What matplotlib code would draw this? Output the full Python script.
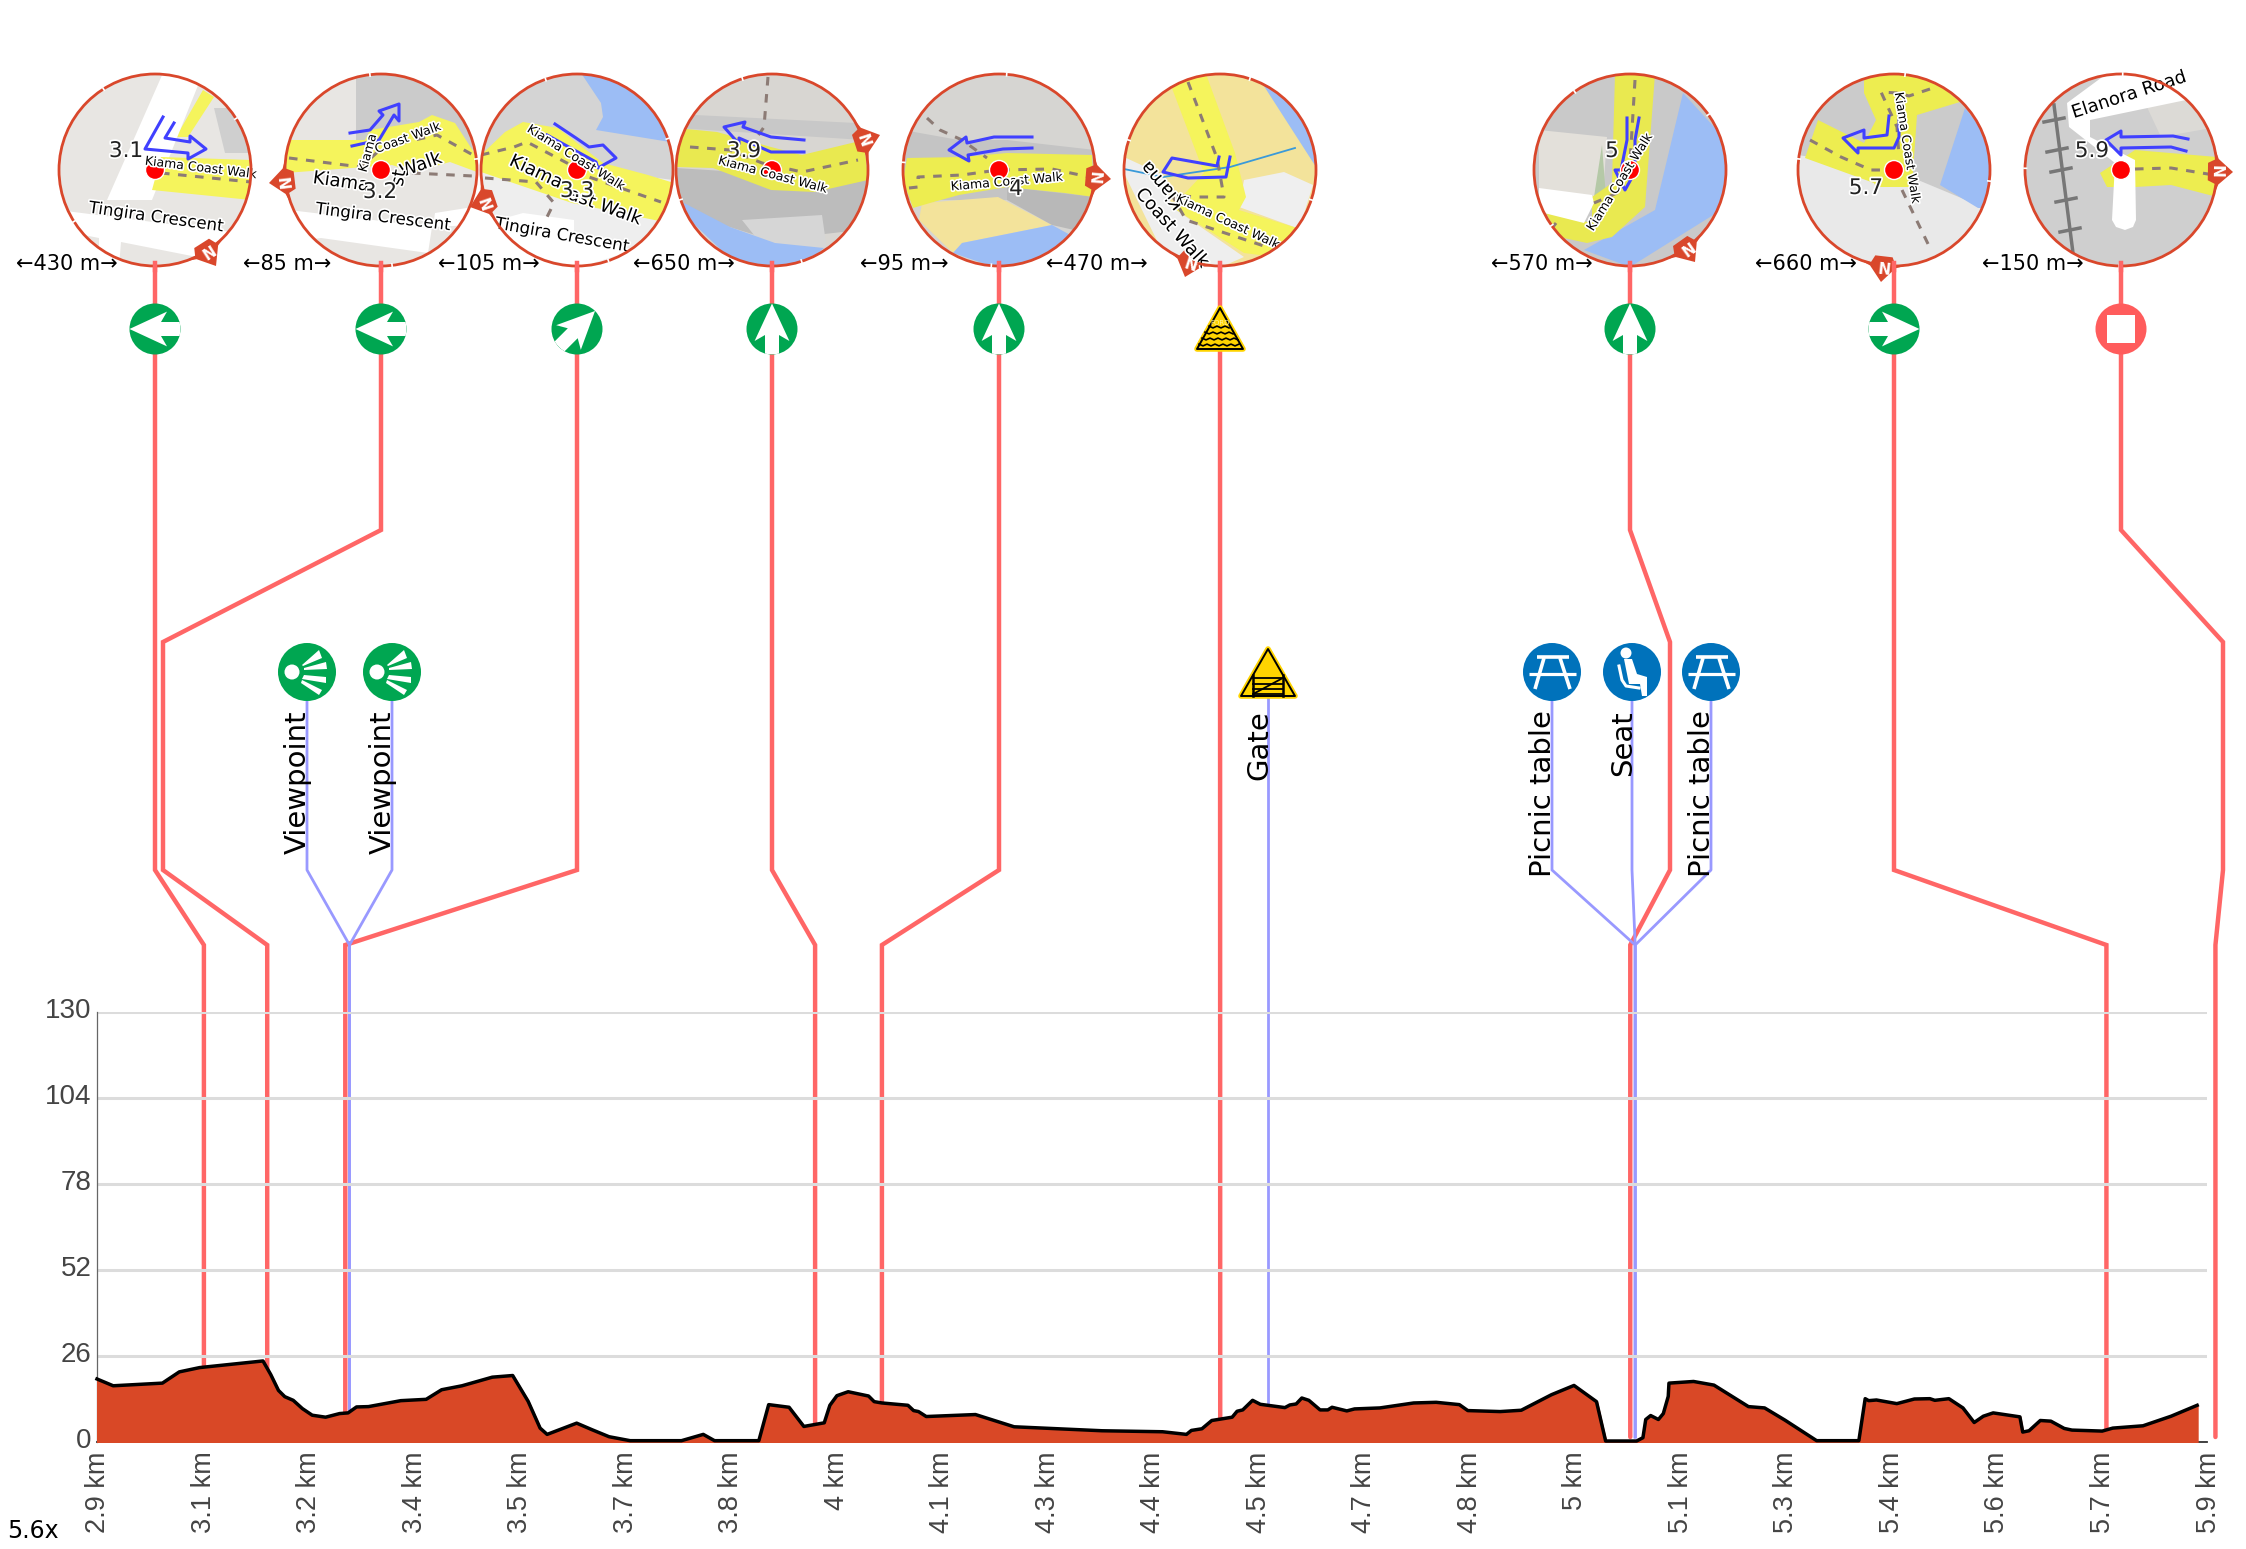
import matplotlib
matplotlib.use('Agg')
import matplotlib.pyplot as plt
import matplotlib.patheffects as pe
from matplotlib.patches import Circle, Polygon, Rectangle
from matplotlib.transforms import ScaledTranslation
import numpy as np

# elevation profile
profile_km = [2.900, 2.923, 2.993, 3.017, 3.046, 3.136, 3.147, 3.158, 3.167, 3.179, 3.192, 3.206, 3.225,
              3.245, 3.257, 3.269, 3.286, 3.332, 3.368, 3.390, 3.419, 3.462, 3.491, 3.513, 3.530, 3.540,
              3.582, 3.604, 3.628, 3.658, 3.731, 3.762, 3.778, 3.841, 3.855, 3.884, 3.905, 3.934, 3.942,
              3.952, 3.968, 3.997, 4.005, 4.016, 4.053, 4.061, 4.068, 4.079, 4.149, 4.204, 4.329, 4.415,
              4.449, 4.456, 4.471, 4.485, 4.514, 4.521, 4.529, 4.543, 4.554, 4.589, 4.596, 4.605, 4.613,
              4.623, 4.639, 4.650, 4.656, 4.677, 4.688, 4.724, 4.772, 4.804, 4.837, 4.849, 4.895, 4.925,
              4.968, 5.000, 5.032, 5.045, 5.089, 5.098, 5.102, 5.109, 5.120, 5.127, 5.134, 5.135, 5.170,
              5.199, 5.248, 5.271, 5.300, 5.345, 5.405, 5.414, 5.419, 5.430, 5.459, 5.484, 5.506, 5.513,
              5.533, 5.553, 5.569, 5.582, 5.596, 5.634, 5.638, 5.647, 5.663, 5.678, 5.697, 5.708, 5.751,
              5.766, 5.809, 5.849, 5.886]
profile_elev = [19.05, 17.0, 17.8, 21.2, 22.5, 24.5, 20.4, 15.6, 13.7, 12.6, 10.1, 8.1, 7.5,
                8.6, 8.8, 10.6, 10.7, 12.5, 12.9, 15.8, 17.0, 19.6, 20.1, 12.3, 4.2, 2.3,
                5.7, 3.7, 1.6, 0.4, 0.4, 2.3, 0.4, 0.4, 11.3, 10.5, 4.7, 5.8, 11.1,
                14.0, 15.2, 13.9, 12.2, 11.8, 11.1, 9.5, 9.2, 7.7, 8.3, 4.6, 3.4, 3.1,
                2.3, 3.5, 4.0, 6.5, 7.5, 9.3, 9.7, 12.6, 11.4, 10.4, 11.2, 11.5, 13.3,
                12.6, 9.7, 9.7, 10.5, 9.4, 10.0, 10.3, 11.8, 12.0, 11.3, 9.5, 9.2, 9.6,
                14.3, 17.1, 12.2, 0.3, 0.3, 1.3, 6.8, 8.0, 6.8, 8.6, 13.8, 17.8, 18.3,
                17.2, 10.7, 10.3, 6.6, 0.4, 0.4, 13.1, 12.5, 12.7, 11.6, 13.0, 13.1, 12.6,
                13.1, 10.3, 5.9, 7.8, 8.8, 7.6, 3.0, 3.4, 6.5, 6.3, 4.1, 3.6, 3.3,
                4.2, 4.9, 7.8, 11.1]

y_ticks = [0, 26, 52, 78, 104, 130]
x_tick_km = [2.9, 3.05, 3.2, 3.35, 3.5, 3.65, 3.8, 3.95, 4.1, 4.25, 4.4, 4.55, 4.7, 4.85, 5.0, 5.15,
             5.3, 5.45, 5.6, 5.75, 5.9]
x_tick_labels = ['2.9 km', '3.1 km', '3.2 km', '3.4 km', '3.5 km', '3.7 km', '3.8 km', '4 km', '4.1 km',
                 '4.3 km', '4.4 km', '4.5 km', '4.7 km', '4.8 km', '5 km', '5.1 km', '5.3 km', '5.4 km',
                 '5.6 km', '5.7 km', '5.9 km']

# turn markers: where they sit on the profile, and their map/icon
turn_km = [3.052, 3.142, 3.253, 3.921, 4.016, 4.497, 5.080, 5.757, 5.912]
turn_map_x = [155, 381, 577, 772, 999, 1220, 1630, 1894, 2121]
turn_kinds = ['left', 'left', 'ne', 'up', 'up', 'ford', 'up', 'right', 'stop']
turn_numbers = ['3.1', '3.2', '3.3', '3.9', '4', '', '5', '5.7', '5.9']
gap_labels = ['←430 m→', '←85 m→', '←105 m→', '←650 m→', '←95 m→', '←470 m→', '←570 m→', '←660 m→', '←150 m→']
gap_label_x = [67, 287, 489, 684, 904, 1097, 1542, 1806, 2033]

# points of interest
poi_km = [3.259, 3.259, 4.565, 5.087, 5.087, 5.087]
poi_icon_x = [307, 392, 1268, 1552, 1632, 1711]
poi_names = ['Viewpoint', 'Viewpoint', 'Gate', 'Picnic table', 'Seat', 'Picnic table']
poi_kinds = ['view', 'view', 'gate', 'picnic', 'seat', 'picnic']

RED = '#ff6666'
LILAC = '#9999ff'
GREEN = '#00a651'
BLUE = '#0072bb'
EDGE = '#d9472b'
YEL = '#f5f45c'
WATER = '#9cbdf5'
SAND = '#f3e39b'
PATH = '#8c7b75'
ARROW = '#4040ff'

# map sketches, offsets in pixels from the circle centre
# polys: colour, points / dash: dashed tracks / arrow: route / texts: text, x, y, rotation, size
maps = [
    dict(bg='#e8e6e3', compass=(61, 96),
         polys=[('#cfcfcf', [(59, -62), (96, -62), (96, -17), (70, -17)]),
                (YEL, [(48, -80), (59, -73), (33, -33), (21, -33)]),
                ('#ffffff', [(8, -97), (48, -97), (-3, 30), (-48, 30)]),
                (YEL, [(6, -13), (96, -10), (96, 30), (-3, 20)]),
                ('#ffffff', [(-97, 40), (77, 62), (42, 87), (-34, 72), (-36, 97), (-56, 97), (-56, 68), (-97, 60)])],
         dash=[[(6, 3), (96, 12)]],
         arrow=[(8, -53), (-10, -21), (33, -17), (33, -11), (51, -21), (35, -34), (35, -28), (10, -32), (19, -47)],
         texts=[('Kiama Coast Walk', 46, -2, -7, 9), ('Tingira Crescent', 1, 47, -8, 12)],
         num=(-29, -19)),
    dict(bg='#e8e6e3', compass=(-112, 13),
         polys=[('#cbcbcb', [(-25, -97), (96, -97), (96, -20), (-25, -30)]),
                (YEL, [(-96, -30), (-16, -30), (-11, -40), (38, -48), (51, -55), (74, -47), (96, -13), (96, 2),
                       (69, -8), (33, 2), (11, -5), (-96, 3)]),
                ('#ffffff', [(-92, 40), (51, 57), (47, 83), (-60, 68), (-74, 70)]),
                ('#ffffff', [(54, 43), (92, 37), (92, 55), (52, 57)])],
         dash=[[(-92, -12), (-20, -3), (2, -23), (56, -35), (92, -15)], [(31, 3), (92, 6)]],
         arrow=[(-31, -37), (-11, -40), (2, -55), (-2, -59), (18, -66), (18, -49), (13, -55), (-2, -30), (-29, -24)],
         texts=[('Kiama', -40, 12, -8, 13), ('Walk', 40, -5, 20, 13), ('Coast Walk', 27, -32, 20, 9),
                ('Kiama', -13, -17, 75, 9), ('Tingira Crescent', 2, 47, -7, 12), ('st', 18, 8, 80, 13)],
         num=(-1, 22)),
    dict(bg='#eeeeee', compass=(-107, 37),
         polys=[('#d4d4d4', [(-96, -97), (96, -97), (96, 10), (-96, -15)]),
                (WATER, [(4, -97), (24, -67), (26, -53), (19, -40), (93, -28), (97, -97)]),
                (YEL, [(-96, -15), (-72, -38), (-54, -48), (-19, -42), (26, -7), (71, 5), (97, 13), (92, 53),
                       (-5, 33), (-96, 2)]),
                ('#ffffff', [(-86, 52), (-54, 43), (-3, 50), (-3, 63), (57, 80), (4, 97), (-63, 83)])],
         dash=[[(-96, -15), (-63, -23), (-50, -28), (-10, -7), (12, 7), (84, 32)],
               [(-92, 8), (-41, 12), (-23, 33), (-30, 47)]],
         arrow=[(-22, -46), (-1, -32), (12, -23), (26, -25), (39, -12), (21, -2), (19, -8), (-30, -35)],
         texts=[('Kiama Coast Walk', -1, -12, -32, 9), ('Kiama', -41, 2, -25, 13), ('ast Walk', 28, 37, -20, 13),
                ('Tingira Crescent', -15, 65, -10, 12)],
         num=(0, 21)),
    dict(bg='#d8d6d2', compass=(108, -35),
         polys=[('#c8c8c8', [(-77, -55), (84, -47), (92, -30), (-96, -42)]),
                ('#bcbcbc', [(-96, -2), (96, 10), (88, 60), (-1, 70), (-96, 40)]),
                ('#d6d6d6', [(-30, 50), (50, 45), (55, 80), (-10, 75)]),
                (WATER, [(-88, 33), (-42, 57), (3, 73), (52, 78), (30, 97), (-33, 97), (-96, 37)]),
                ('#e9e950', [(-96, -42), (-55, -38), (-1, -23), (30, -15), (92, -30), (96, 10), (43, 22), (-1, 20),
                             (-59, -2), (-96, -3)])],
         dash=[[(-4, -93), (-8, -43), (-19, -27)], [(-82, -23), (-42, -20), (-10, -7), (30, 2), (86, -10)]],
         arrow=[(32, -30), (-1, -33), (-29, -43), (-27, -48), (-48, -43), (-33, -26), (-33, -32), (-1, -18), (32, -18)],
         texts=[('Kiama Coast Walk', 1, 5, -15, 9)],
         num=(-28, -19)),
    dict(bg='#d6d5d2', compass=(112, 9),
         polys=[('#c4c4c4', [(-96, -40), (-40, -30), (8, -30), (96, -20), (96, 30), (-96, 30)]),
                (SAND, [(-77, 33), (-1, 27), (53, 55), (-37, 73), (-46, 83), (-80, 50)]),
                ('#b8b8b8', [(8, 17), (95, 27), (75, 60), (53, 55), (8, 30)]),
                (WATER, [(-37, 73), (53, 55), (75, 67), (44, 90), (-5, 97), (-46, 83)]),
                ('#eded50', [(-92, -12), (-36, -13), (8, -17), (93, -15), (95, 27), (66, 23), (8, 17), (-40, 25),
                             (-69, 33), (-86, 38), (-96, 10)])],
         dash=[[(-72, -52), (-59, -40), (-37, -30), (-12, -12)],
               [(-90, 18), (-81, 17), (-81, 7), (-37, 5), (-1, 0), (53, -1), (95, 8)]],
         arrow=[(33, -33), (-5, -33), (-32, -27), (-33, -33), (-50, -20), (-30, -9), (-31, -15), (4, -21), (33, -22)],
         texts=[('Kiama Coast Walk', 8, 12, 5, 9)],
         num=(17, 19)),
    dict(bg=SAND, compass=(-35, 107), dot=False,
         polys=[('#eeeeee', [(-96, -13), (-57, 5), (-48, 37), (24, 87), (1, 97), (-57, 83), (-96, 3)]),
                ('#efefef', [(24, 10), (64, 2), (93, 15), (82, 50), (77, 58), (19, 37)]),
                (WATER, [(42, -87), (53, -92), (96, -30), (96, -3)]),
                (YEL, [(-50, -87), (-14, -96), (15, -17), (26, 27), (19, 40), (77, 58), (55, 87), (24, 83), (-48, 37),
                       (-16, 3)])],
         dash=[[(-32, -88), (-3, -12), (4, 27), (-25, 27), (-48, 25), (-34, 50), (50, 78)]],
         stream=[(-96, -1), (-57, 7), (10, -3), (75, -22)],
         arrow=[(-1, -13), (-3, -4), (-48, -12), (-57, 2), (-32, 8), (6, 7), (10, -13)],
         texts=[('Kiama', -57, 15, 130, 13), ('Coast Walk', -48, 58, -48, 13), ('Kiama Coast Walk', 8, 52, -25, 9)],
         num=None),
    dict(bg='#c9c9c9', compass=(65, 92),
         polys=[('#e3e0da', [(-91, -40), (-23, -33), (-28, 40), (-91, 25)]),
                ('#b5c9a7', [(-28, -25), (-23, 40), (-38, 40)]),
                (WATER, [(53, -77), (96, -30), (96, 37), (0, 97), (-46, 80), (25, 40)]),
                ('#e9e950', [(-15, -96), (25, -96), (15, 37), (-18, 67), (-43, 73), (-71, 67), (-84, 43), (-38, 53),
                             (-38, 27), (-18, 13)]),
                ('#ffffff', [(-91, 18), (-38, 25), (-36, 33), (-46, 53), (-86, 43), (-91, 40)])],
         dash=[[(5, -90), (0, -7)], [(-13, 23), (-36, 33)], [(-74, 53), (-81, 62)]],
         arrow=[(-3, -52), (-3, -30), (-9, 0), (-15, 0), (-5, 20), (5, 2), (5, -30), (9, -52)],
         texts=[('Kiama Coast Walk', -10, 12, 58, 9)],
         num=(-18, -19)),
    dict(bg='#e9e9e9', compass=(-13, 112),
         polys=[('#cbcbcb', [(-96, -97), (96, -97), (96, 40), (0, 0), (-96, -15)]),
                (WATER, [(71, -62), (96, -30), (96, 38), (84, 38), (46, 15)]),
                ('#eded50', [(-30, -96), (33, -96), (66, -68), (23, -55), (18, 17), (-18, 17), (-20, 13), (-89, -12),
                             (-76, -50), (-30, -27), (-18, -50), (-30, -77)])],
         dash=[[(36, -81), (15, -74), (3, -77), (-13, -78), (3, -43), (5, -13)],
               [(-84, -30), (-53, -13), (-23, 0), (-10, 0)], [(8, 20), (36, 78)]],
         arrow=[(-5, -54), (-7, -35), (-30, -32), (-30, -40), (-51, -32), (-36, -17), (-36, -22), (0, -22), (5, -33),
                (5, -53)],
         texts=[('Kiama Coast Walk', 13, -22, -81, 9)],
         num=(-28, 18)),
    dict(bg='#cfcfcf', compass=(112, 2),
         polys=[('#dcdad6', [(25, -65), (80, -85), (96, -43), (40, -33)]),
                ('#eded50', [(14, -20), (96, -13), (96, 27), (50, 15), (14, 17), (-14, 17), (-21, 3)]),
                ('#ffffff', [(-54, -67), (-52, -43), (-6, -7), (-9, 50), (-5, 57), (4, 60), (12, 57), (15, 50), (14, -10),
                             (-31, -33), (-31, -50), (65, -70), (40, -97), (-16, -95)])],
         dash=[[(14, -1), (50, -2), (93, 5)]],
         rail=[(-67, -65), (-48, 83)],
         arrow=[(67, -31), (52, -34), (0, -33), (0, -39), (-15, -30), (0, -15), (0, -22), (50, -23), (65, -19)],
         texts=[('Elanora Road', 8, -75, 18, 13)],
         num=(-29, -19)),
]

CY = 170
R = 96
LINE_TOP = 263
ICON_Y = 329
POI_Y = 672
halo = [pe.withStroke(linewidth=2.5, foreground='white')]

fig = plt.figure(figsize=(22.46, 15.49), dpi=100)
ax = fig.add_axes([0, 0, 1, 1], zorder=1)
ax.set_xlim(0, 2246)
ax.set_ylim(1549, 0)
ax.set_xticks([])
ax.set_yticks([])
ax.axis('off')

elev = fig.add_axes([97 / 2246, (1549 - 1442) / 1549, 2110 / 2246, 430 / 1549], zorder=2)
elev.patch.set_visible(False)
elev.set_xlim(2.9, 5.9)
elev.set_ylim(0, 130)
elev.set_yticks(y_ticks)
elev.set_xticks(x_tick_km)
elev.set_xticklabels(x_tick_labels, rotation=90, va='top', ha='center', family='Liberation Sans',
                     fontsize=19.5, color='#444444')
elev.set_yticklabels([str(v) for v in y_ticks], family='Liberation Sans', fontsize=20, color='#444444')
elev.tick_params(length=0)
elev.tick_params(axis='x', pad=7)
elev.tick_params(axis='y', pad=4)
# the value labels sit a little above their grid lines
for lab in elev.get_yticklabels():
    lab.set_transform(lab.get_transform() + ScaledTranslation(0, 4 / 100, fig.dpi_scale_trans))
for lab in elev.get_xticklabels():
    lab.set_transform(lab.get_transform() + ScaledTranslation(1.5 / 100, 0, fig.dpi_scale_trans))
elev.grid(axis='y', color='#dcdcdc', linewidth=2.2)
elev.set_axisbelow(True)
for s in ['top', 'right']:
    elev.spines[s].set_visible(False)
elev.spines['left'].set_color('#666666')
elev.spines['left'].set_linewidth(0.9)
elev.spines['bottom'].set_color('#333333')
elev.spines['bottom'].set_linewidth(1.3)
elev.fill_between(profile_km, profile_elev, 0, color='#d94826', linewidth=1.5, zorder=3)
elev.plot(profile_km, profile_elev, color='black', linewidth=2.5, solid_joinstyle='round', zorder=4, clip_on=False)


def km_px(km):
    # go through the profile's own scale
    disp = elev.transData.transform((km, 0))
    return disp[0] * 2246 / fig.bbox.width


# connector routes, figure pixels
turn_mid = [[(155, 870)],
            [(381, 530), (163, 642), (163, 870)],
            [(577, 870)],
            [(772, 870)],
            [(999, 870)],
            [(1220, 870)],
            [(1630, 530), (1670, 642), (1670, 870)],
            [(1894, 870)],
            [(2121, 530), (2223, 642), (2223, 870)]]
for x0, km, mid in zip(turn_map_x, turn_km, turn_mid):
    bx = km_px(km)
    xs = [x0] + [p[0] for p in mid] + [bx, bx]
    ys = [LINE_TOP] + [p[1] for p in mid] + [945, 1437]
    if km == 4.497:
        xs, ys = [x0, bx], [LINE_TOP, 1437]
    ax.plot(xs, ys, color=RED, linewidth=3.2, solid_joinstyle='miter', solid_capstyle='round', zorder=2)

for x0, km in zip(poi_icon_x, poi_km):
    bx = km_px(km)
    if x0 == 1268:
        ax.plot([x0, x0], [POI_Y, 1437], color=LILAC, linewidth=2, zorder=3)
    else:
        ax.plot([x0, x0, bx, bx], [POI_Y, 870, 945, 1437], color=LILAC, linewidth=2, zorder=3)


def draw_map(cx, spec, number):
    clip = Circle((cx, CY), R, transform=ax.transData, facecolor=spec['bg'], edgecolor='none', zorder=5)
    ax.add_patch(clip)

    def sh(pts):
        return [(cx + p[0], CY + p[1]) for p in pts]

    def line(pts, **kw):
        a = np.array(sh(pts))
        ln, = ax.plot(a[:, 0], a[:, 1], zorder=6, **kw)
        ln.set_clip_path(clip)

    for colour, pts in spec['polys']:
        p = Polygon(sh(pts), closed=True, facecolor=colour, edgecolor='none', zorder=5.5)
        ax.add_patch(p)
        p.set_clip_path(clip)
    if 'stream' in spec:
        line(spec['stream'], color='#3a9ad9', linewidth=1.3)
    if 'rail' in spec:
        line(spec['rail'], color='#777777', linewidth=2.5)
        for t in [(-67, -50), (-60, 0), (-55, 30), (-51, 60), (-64, -20)]:
            line([(t[0] - 10, t[1] + 2), (t[0] + 10, t[1] - 2)], color='#777777', linewidth=2.5)
    for pts in spec['dash']:
        line(pts, color=PATH, linewidth=2.2, dashes=(2.8, 2.8))

    # compass marker sits behind the circle edge, tip outside
    tx, ty = spec['compass']
    ang = np.arctan2(ty, tx)
    a1, a2 = ang - 0.26, ang + 0.26
    verts = [(cx + R * np.cos(a1), CY + R * np.sin(a1)),
             (cx + 1.025 * R * np.cos(ang - 0.13), CY + 1.025 * R * np.sin(ang - 0.13)),
             (cx + tx, CY + ty),
             (cx + 1.025 * R * np.cos(ang + 0.13), CY + 1.025 * R * np.sin(ang + 0.13)),
             (cx + R * np.cos(a2), CY + R * np.sin(a2)),
             (cx + 0.99 * R * np.cos(ang + 0.13), CY + 0.99 * R * np.sin(ang + 0.13)),
             (cx + 0.91 * R * np.cos(ang + 0.1), CY + 0.91 * R * np.sin(ang + 0.1)),
             (cx + 0.91 * R * np.cos(ang - 0.1), CY + 0.91 * R * np.sin(ang - 0.1)),
             (cx + 0.99 * R * np.cos(ang - 0.13), CY + 0.99 * R * np.sin(ang - 0.13))]
    ax.add_patch(Polygon(verts, closed=True, facecolor=EDGE, edgecolor='none', zorder=6.5))

    # circle edge above the sketch
    ax.add_patch(Circle((cx, CY), R, facecolor='none', edgecolor=EDGE, linewidth=2, zorder=8))
    line(spec['arrow'], color=ARROW, linewidth=2.2, solid_joinstyle='round')
    if spec.get('dot', True):
        ax.add_patch(Circle((cx, CY), 9.5, facecolor='red', edgecolor='white', linewidth=1, zorder=7))
    for txt, dx, dy, rot, size in spec['texts']:
        stroke = 2.4
        t = ax.text(cx + dx, CY + dy, txt, rotation=rot, rotation_mode='anchor', ha='center', va='center',
                    fontsize=size, color='black', zorder=7,
                    path_effects=[pe.withStroke(linewidth=stroke, foreground='white')])
        t.set_clip_path(clip)
    if spec['num'] is not None:
        ax.text(cx + spec['num'][0], CY + spec['num'][1], number, ha='center', va='center', fontsize=15.5,
                color='#222222', zorder=9, path_effects=halo)

    deg = np.degrees(ang)
    ax.text(cx + 0.99 * R * np.cos(ang), CY + 0.99 * R * np.sin(ang), 'N', rotation=-deg - 90,
            rotation_mode='anchor', ha='center', va='center', fontsize=11, fontweight='bold', color='white',
            zorder=9)
    for k in (1, 2, 3):
        a = ang + k * np.pi / 2
        ax.plot([cx + (R - 1.5) * np.cos(a), cx + (R + 1) * np.cos(a)],
                [CY + (R - 1.5) * np.sin(a), CY + (R + 1) * np.sin(a)], color='white', linewidth=1.2, zorder=9)


def rot_pts(pts, deg):
    # angle measured from "up", clockwise positive, y of result points down the figure
    a = np.radians(deg)
    out = []
    for x, y in pts:
        out.append((x * np.cos(a) + y * np.sin(a), x * np.sin(a) - y * np.cos(a)))
    return out


ARROW_UP = [(0, 25.5), (17.4, -12), (7, -6), (7, -25.5), (-7, -25.5), (-7, -6), (-17.4, -12)]
TURN_ANGLE = {'left': -90, 'right': 90, 'up': 0, 'ne': 45}


def warn_triangle(tri):
    # yellow rim, black line, yellow inside
    ax.add_patch(Polygon(tri, closed=True, facecolor='#ffd400', edgecolor='#ffd400', linewidth=4,
                         joinstyle='round', zorder=10))
    ax.add_patch(Polygon(tri, closed=True, facecolor='#ffd400', edgecolor='black', linewidth=1.4,
                         joinstyle='round', zorder=10))


def draw_turn(cx, kind):
    if kind == 'ford':
        warn_triangle([(cx, 308), (cx + 23, 349), (cx - 23, 349)])
        for row, half in zip([327, 333, 339, 345], [11, 15, 18, 21]):
            xs = np.arange(cx - half, cx + half + 0.1, 4)
            ys = row + np.where(np.arange(len(xs)) % 2 == 0, -0.9, 0.9)
            ax.plot(xs, ys, color='black', linewidth=1.2, zorder=11)
        ax.text(cx, 323, 'FORD', fontsize=5, color='#fff3a0', ha='center', va='center', zorder=11)
        return
    if kind == 'stop':
        ax.add_patch(Circle((cx, ICON_Y), 25.5, facecolor='#ff5c5c', edgecolor='none', zorder=10))
        ax.add_patch(Rectangle((cx - 14, ICON_Y - 14), 28, 28, facecolor='white', edgecolor='none', zorder=11))
        return
    disc = Circle((cx, ICON_Y), 25.5, facecolor=GREEN, edgecolor='none', zorder=10)
    ax.add_patch(disc)
    pts = [(cx + x, ICON_Y + y) for x, y in rot_pts(ARROW_UP, TURN_ANGLE[kind])]
    p = Polygon(pts, closed=True, facecolor='white', edgecolor='none', zorder=11)
    ax.add_patch(p)
    p.set_clip_path(disc)


def draw_poi(cx, kind):
    cy = POI_Y
    if kind == 'gate':
        warn_triangle([(cx, 649), (cx + 27, 696), (cx - 27, 696)])
        for px in (-15, 15):
            ax.plot([cx + px, cx + px], [675, 696], color='black', linewidth=1.8, zorder=11)
        for yy in (678, 684, 689, 694):
            ax.plot([cx - 15, cx + 15], [yy, yy], color='black', linewidth=1.3, zorder=11)
        ax.plot([cx - 13, cx + 13], [693, 679], color='black', linewidth=1.3, zorder=11)
        return
    colour = GREEN if kind == 'view' else BLUE
    ax.add_patch(Circle((cx, cy), 29, facecolor=colour, edgecolor='none', zorder=10))
    if kind == 'view':
        ax.add_patch(Circle((cx - 15, cy), 7.5, facecolor='white', edgecolor='none', zorder=11))
        rays = [[(-5, -7), (12, -22), (15, -14), (-4, -6)], [(-3, -4), (19, -10), (20, -3), (-3, -2)],
                [(-3, 3), (19, 5), (19, 11), (-5, 7)], [(-5, 8), (15, 18), (12, 23), (-6, 11)]]
        for r in rays:
            ax.add_patch(Polygon([(cx + x, cy + y) for x, y in r], closed=True, facecolor='white',
                                 edgecolor='none', zorder=11))
    elif kind == 'picnic':
        for seg, lw in [([(-15, -15), (17, -15)], 2.6), ([(-23, 1.5), (24, 1.5)], 2.3),
                        ([(-8, -14), (-17, 17)], 2.6), ([(8, -14), (18, 17)], 2.6)]:
            ax.plot([cx + seg[0][0], cx + seg[1][0]], [cy + seg[0][1], cy + seg[1][1]], color='white', linewidth=lw,
                    solid_capstyle='butt', zorder=11)
    else:
        ax.add_patch(Circle((cx - 6, cy - 19), 5.5, facecolor='white', edgecolor='none', zorder=11))
        body = [(-8, -13), (0, -13), (5, 2), (15, 5), (15, 24), (10, 24), (8, 12), (-3, 12)]
        ax.add_patch(Polygon([(cx + x, cy + y) for x, y in body], closed=True, facecolor='white', edgecolor='none',
                             zorder=11))
        ax.plot([cx - 13, cx - 10, cx - 6, cx + 7], [cy - 6, cy + 8, cy + 14, cy + 16], color='white', linewidth=2.2,
                zorder=11)


for x0, spec, number in zip(turn_map_x, maps, turn_numbers):
    draw_map(x0, spec, number)
# connector stub runs into the circle
for x0 in turn_map_x:
    ax.plot([x0, x0], [LINE_TOP, 270], color=RED, linewidth=3.2, zorder=10)
for x0, kind in zip(turn_map_x, turn_kinds):
    draw_turn(x0, kind)
for x0, kind, name in zip(poi_icon_x, poi_kinds, poi_names):
    draw_poi(x0, kind)
    ax.text(x0 + 5, 710, name, rotation=90, ha='right', va='top', fontsize=21, color='black', zorder=12)
for x0, txt in zip(gap_label_x, gap_labels):
    ax.text(x0, 264, txt, ha='center', va='center', fontsize=15, color='black', zorder=12)

ax.text(7, 1531, '5.6x', ha='left', va='center', fontsize=17, color='black')

fig.savefig('out.png', dpi=100)
